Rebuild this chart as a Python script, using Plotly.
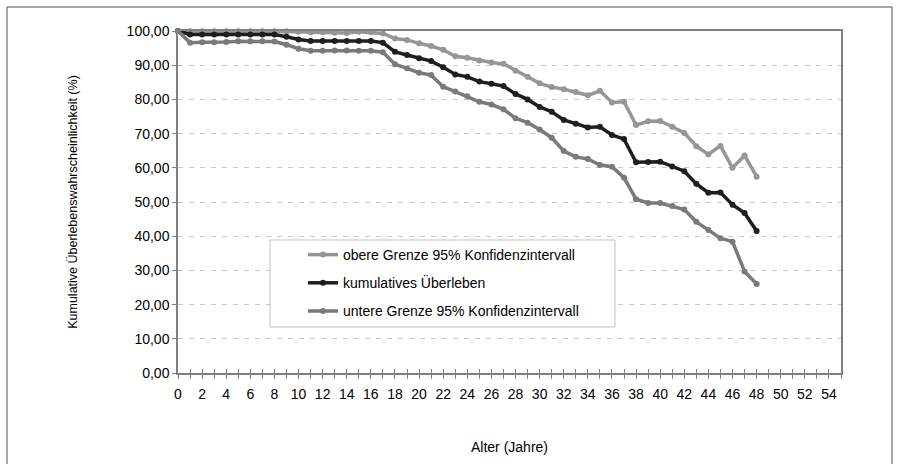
import plotly.graph_objects as go

# Age in years (x axis categories)
age = list(range(49))

# Upper bound of the 95 % confidence interval (%)
upper = [100.0, 99.9, 99.9, 99.9, 99.9, 99.9, 99.9, 99.9, 99.9, 99.9,
         99.8, 99.6, 99.6, 99.5, 99.4, 99.8, 99.6, 99.3, 97.8, 97.4,
         96.4, 95.6, 94.5, 92.6, 92.2, 91.4, 90.8, 90.4, 88.4, 86.6,
         84.7, 83.6, 83.0, 82.2, 81.2, 82.5, 79.1, 79.3, 72.5, 73.6,
         73.7, 72.0, 70.2, 66.3, 63.9, 66.4, 60.0, 63.6, 57.4]

# Cumulative survival (%)
survival = [100.0, 99.0, 99.0, 99.0, 99.0, 99.0, 99.0, 99.0, 99.0, 98.3,
            97.5, 97.1, 97.1, 97.1, 97.1, 97.1, 97.1, 96.6, 93.9, 93.0,
            92.0, 91.2, 89.4, 87.3, 86.6, 85.2, 84.6, 83.9, 81.6, 80.0,
            77.8, 76.4, 74.0, 72.9, 71.8, 72.0, 69.6, 68.4, 61.6, 61.7,
            61.8, 60.4, 59.0, 55.3, 52.7, 52.8, 49.2, 46.8, 41.5]

# Lower bound of the 95 % confidence interval (%)
lower = [100.0, 96.6, 96.7, 96.7, 96.8, 97.0, 97.0, 97.0, 96.9, 96.0,
         94.8, 94.2, 94.2, 94.3, 94.3, 94.2, 94.2, 93.8, 90.3, 89.1,
         87.8, 87.1, 83.7, 82.3, 80.9, 79.3, 78.5, 77.1, 74.5, 73.2,
         71.2, 68.8, 64.9, 63.2, 62.6, 60.8, 60.3, 57.1, 50.8, 49.7,
         49.7, 48.8, 47.8, 44.2, 41.8, 39.4, 38.4, 29.7, 26.0]

names = ["obere Grenze 95% Konfidenzintervall",
         "kumulatives Überleben",
         "untere Grenze 95% Konfidenzintervall"]
colors = ["#969696", "#1e1e1e", "#7a7a7a"]

FONT = "Liberation Sans, Arial, sans-serif"
W, H = 898, 464
L, R, T, B = 178, 841, 31, 373  # plot area edges in px

fig = go.Figure()
for i, (name, ys, col) in enumerate(zip(names, [upper, survival, lower], colors)):
    fig.add_trace(go.Scatter(
        x=age, y=ys, name=name, mode="lines+markers",
        line=dict(color=col, width=3.5),
        marker=dict(color=col, size=6),
        legendgroup=f"g{i}", cliponaxis=False,
    ))

# helper trace so the second (inside-tick) x axis gets drawn
fig.add_trace(go.Scatter(x=[0], y=[None], xaxis="x2", showlegend=False,
                         hoverinfo="skip"))


def px_x(p):
    return (p - L) / (R - L)


def px_y(p):
    return (B - p) / (B - T)


fig.update_layout(
    width=W, height=H,
    margin=dict(l=L, r=W - R, t=T, b=H - B),
    paper_bgcolor="white", plot_bgcolor="white",
    separators=",.",
    font=dict(family=FONT, size=14, color="#000000"),
    showlegend=True,
    legend=dict(
        x=px_x(270), y=px_y(239), xanchor="left", yanchor="top",
        bgcolor="rgba(0,0,0,0)", borderwidth=0,
        font=dict(family=FONT, size=14, color="#000000"),
        tracegroupgap=7, traceorder="grouped",
        indentation=33, itemwidth=30,
    ),
    xaxis=dict(
        range=[0, 55], tick0=0, dtick=2,
        showgrid=False, zeroline=False,
        showline=True, linecolor="#808080", linewidth=1.5, mirror=True,
        ticks="outside", ticklen=4, tickcolor="#808080",
        minor=dict(dtick=1, ticks="outside", ticklen=4, tickcolor="#808080"),
        ticklabelstandoff=3,
        tickfont=dict(size=14),
        title=dict(text="Alter (Jahre)", standoff=42, font=dict(size=14)),
    ),
    xaxis2=dict(
        range=[0, 55], overlaying="x", anchor="y", side="bottom",
        tick0=0, dtick=1, ticks="inside", ticklen=4, tickcolor="#808080",
        showticklabels=False, showgrid=False, zeroline=False, showline=False,
    ),
    yaxis=dict(
        range=[0, 100], tick0=0, dtick=10, tickformat=".2f",
        showgrid=True, gridcolor="#c8c8c8", gridwidth=1, griddash="5px,6px",
        zeroline=False,
        showline=True, linecolor="#808080", linewidth=1.5, mirror=True,
        ticks="outside", ticklen=4, tickcolor="#808080",
        tickfont=dict(size=14),
        title=dict(text="Kumulative Überlebenswahrscheinlichkeit (%)",
                   standoff=46, font=dict(size=12.5)),
    ),
    shapes=[
        # legend frame
        dict(type="rect", xref="paper", yref="paper",
             x0=px_x(270), x1=px_x(615), y0=px_y(327), y1=px_y(240),
             line=dict(color="#c0c0c0", width=1), fillcolor="white",
             layer="above"),
        # chart area frame
        dict(type="rect", xref="paper", yref="paper",
             x0=px_x(7), x1=px_x(892), y0=px_y(480), y1=px_y(7),
             line=dict(color="#505050", width=1), fillcolor="rgba(0,0,0,0)",
             layer="below"),
    ],
)

fig.write_html("out.html")
